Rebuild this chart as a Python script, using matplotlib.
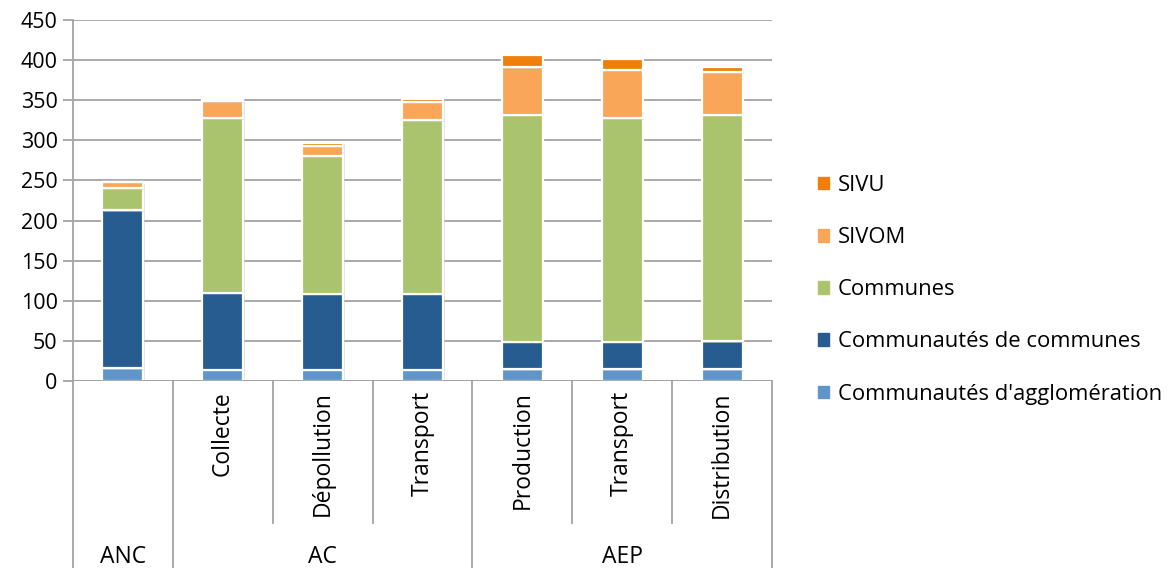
import matplotlib.pyplot as plt
import matplotlib.patheffects as pe
from matplotlib.patches import Rectangle
from matplotlib.transforms import blended_transform_factory

plt.rcParams['font.family'] = ['Open Sans', 'DejaVu Sans']
plt.rcParams['font.size'] = 16.5

# Services (sub-categories) and their parent groups
services = ['', 'Collecte', 'Dépollution', 'Transport', 'Production', 'Transport', 'Distribution']
groups = ['ANC', 'AC', 'AEP']
group_sizes = [1, 3, 3]

# Number of structures per type, stacked bottom to top
agglo = [16, 14, 14, 14, 15, 15, 15]
cc = [197, 96, 95, 95, 34, 34, 35]
communes = [27, 218, 172, 216, 283, 279, 282]
sivom = [8, 21, 12, 23, 59, 60, 53]
sivu = [0, 1, 4, 4, 15, 14, 6]

series = [
    ("Communautés d'agglomération", agglo, '#5F95C8'),
    ('Communautés de communes', cc, '#265C8F'),
    ('Communes', communes, '#A9C46C'),
    ('SIVOM', sivom, '#F9A658'),
    ('SIVU', sivu, '#EE7F0C'),
]

W, H = 1173, 568
fig = plt.figure(figsize=(W / 100, H / 100), dpi=100)
ax = fig.add_axes([73 / W, 1 - 381 / H, (772 - 73) / W, (381 - 20) / H])

grid_c = '#A3A3A3'
x = list(range(len(services)))
bottom = [0] * len(services)
handles = []
for name, vals, color in series:
    ax.bar(x, vals, width=0.41, bottom=bottom, color=color,
           edgecolor='white', linewidth=1.6, zorder=3,
           path_effects=[pe.SimplePatchShadow(offset=(1.2, -1.2), shadow_rgbFace='#C8C8C8', alpha=0.5),
                         pe.Normal()])
    bottom = [b + v for b, v in zip(bottom, vals)]
    handles.append(Rectangle((0, 0), 1, 1, color=color, label=name))

ax.set_xlim(-0.5, len(services) - 0.5)
ax.set_ylim(0, 450)
ax.set_yticks(range(0, 451, 50))
ax.yaxis.grid(True, color=grid_c, linewidth=1.3, zorder=0)
ax.set_xticks([])
for side in ['top', 'right', 'bottom']:
    ax.spines[side].set_visible(False)
ax.spines['left'].set_color(grid_c)
ax.spines['left'].set_linewidth(1.3)
ax.spines['left'].set_zorder(1)
ax.tick_params(axis='y', length=7, width=1.3, color=grid_c, pad=4,
               labelcolor='black', labelsize=15.5)
ax.axhline(0, color=grid_c, linewidth=1.3, zorder=4)

# Two-level category axis below the plot
tr = blended_transform_factory(ax.transData, ax.transAxes)
px = 1 / (381 - 20)
inner_bottom = -(523 - 381) * px
outer_bottom = -(568 - 381) * px
edge = -0.5
group_edges = [edge]
for n in group_sizes:
    edge += n
    group_edges.append(edge)
for i in range(len(services) + 1):
    xe = i - 0.5
    yb = outer_bottom if xe in group_edges else inner_bottom
    ax.plot([xe, xe], [0, yb], transform=tr, color=grid_c, linewidth=1.3, clip_on=False)

for i, label in enumerate(services):
    ax.text(i, -(391 - 381) * px, label, transform=tr, rotation=90,
            ha='center', va='top')

for g, lo, hi in zip(groups, group_edges[:-1], group_edges[1:]):
    ax.text((lo + hi) / 2, -(557 - 381) * px, g, transform=tr, ha='center', va='center')

fig.legend(handles=handles[::-1], loc='upper left', bbox_to_anchor=(818 / W, 1 - 175 / H),
           frameon=False, handlelength=0.5, handleheight=0.5, handletextpad=0.4,
           labelspacing=1.42, borderaxespad=0, borderpad=0, fontsize=15.8)

fig.savefig('out.png', dpi=100)
